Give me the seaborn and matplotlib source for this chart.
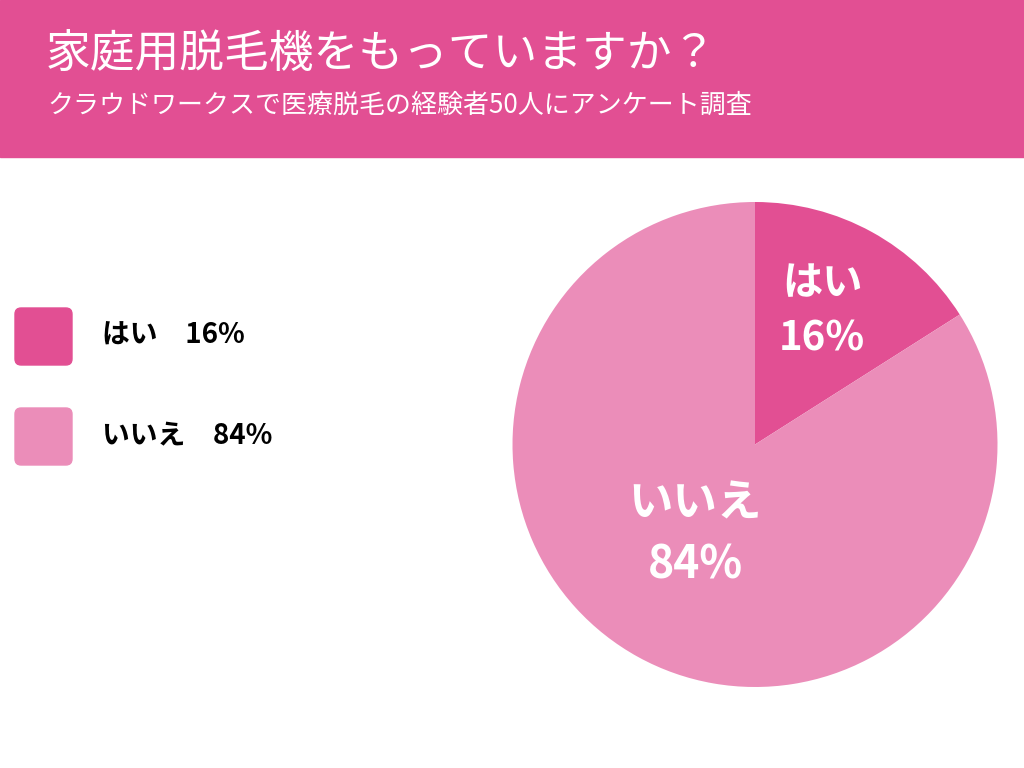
import matplotlib
matplotlib.use('Agg')
import matplotlib.pyplot as plt
import matplotlib.patches as mpatches
import numpy as np
import seaborn as sns

# data
answers = ['はい', 'いいえ']
shares = [16, 84]
title = '家庭用脱毛機をもっていますか？'
subtitle = 'クラウドワークスで医療脱毛の経験者50人にアンケート調査'

sns.set_theme(style='white')
plt.rcParams['font.family'] = ['Noto Sans CJK JP', 'DejaVu Sans']
colors = sns.color_palette(['#E24F93', '#EB8DB9'])

fig = plt.figure(figsize=(10.24, 7.68), dpi=100)
fig.patch.set_facecolor('white')

# pink header band
fig.patches.append(mpatches.Rectangle((0, 1 - 157 / 768), 1, 157 / 768,
                                      transform=fig.transFigure, color='#E24F93',
                                      zorder=0))
fig.text(46 / 1024, 1 - 54 / 768, title, color='white', fontsize=32.2,
         va='center', ha='left')
fig.text(47 / 1024, 1 - 105 / 768, subtitle, color='white', fontsize=18.7,
         va='center', ha='left')

# legend on the left
for i, (lab, val) in enumerate(zip(answers, shares)):
    top = 308 + i * 100
    box = mpatches.FancyBboxPatch((15 / 1024, 1 - (top + 57) / 768), 57 / 1024, 57 / 768,
                                  boxstyle='round,pad=0,rounding_size=0.006',
                                  transform=fig.transFigure, color=colors[i],
                                  mutation_aspect=1024 / 768)
    fig.patches.append(box)
    fig.text(102 / 1024, 1 - (top + 28) / 768, f'{lab}\u3000{val}%', color='black',
             fontsize=20, fontweight='bold', va='center', ha='left')

# pie
ax = fig.add_axes([512.5 / 1024, 81 / 768, 485 / 1024, 485 / 768])
wedges, _ = ax.pie(shares, colors=colors, startangle=90, counterclock=False,
                   wedgeprops={'linewidth': 0})
ax.set_aspect('equal')
ax.set_xlim(-1, 1)
ax.set_ylim(-1, 1)
ax.axis('off')

label_dist = [0.615, 0.445]
label_shift = [2, -5]
label_size = [29, 32]
for w, lab, val, d, s, fs in zip(wedges, answers, shares, label_dist, label_shift, label_size):
    ang = np.deg2rad((w.theta1 + w.theta2) / 2 + s)
    ax.text(d * np.cos(ang), d * np.sin(ang), f'{lab}\n{val}%', color='white',
            fontsize=fs, fontweight='bold', ha='center', va='center',
            linespacing=1.45)

fig.savefig('out.png', dpi=100)
